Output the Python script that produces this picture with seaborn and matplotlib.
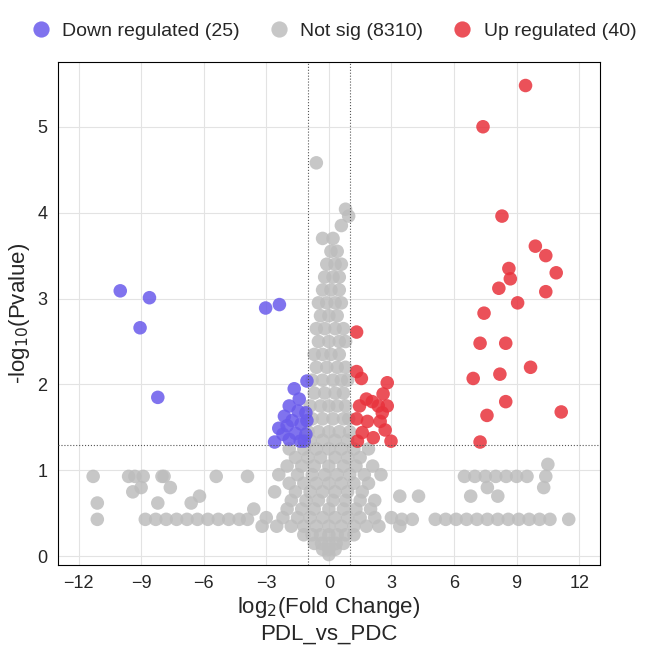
import matplotlib
matplotlib.use("Agg")
import matplotlib.pyplot as plt
import seaborn as sns
import pandas as pd

down_x = [-10.0, -8.6, -9.05, -8.2, -3.03, -2.37, -1.66, -1.05, -1.9, -1.42, -2.13, -1.47, -2.0,
          -1.33, -1.6, -1.1, -2.6, -1.9, -1.18, -2.4, -1.76, -1.05, -1.37, -1.1, -2.2]
down_y = [3.09, 3.01, 2.66, 1.85, 2.89, 2.93, 1.95, 2.04, 1.75, 1.83, 1.63, 1.69, 1.52,
          1.54, 1.43, 1.42, 1.33, 1.36, 1.34, 1.49, 1.58, 1.58, 1.34, 1.67, 1.42]

up_x = [9.43, 7.39, 8.3, 9.9, 10.4, 10.9, 8.63, 10.4, 9.05, 8.15, 8.7, 7.44, 8.48, 7.25, 9.67,
        8.2, 6.92, 7.58, 8.48, 11.14, 7.25,
        1.33, 1.33, 1.56, 1.8, 2.08, 2.8, 2.6, 2.37, 2.8, 1.85, 2.46, 1.6, 1.37, 2.13, 2.98,
        2.7, 1.33, 1.47, 2.56]
up_y = [5.48, 5.0, 3.96, 3.61, 3.5, 3.3, 3.35, 3.08, 2.95, 3.12, 3.23, 2.83, 2.48, 2.48, 2.2,
        2.12, 2.07, 1.64, 1.8, 1.68, 1.33,
        2.61, 2.15, 2.07, 1.83, 1.8, 2.02, 1.89, 1.75, 1.75, 1.57, 1.57, 1.44, 1.34, 1.38, 1.34,
        1.47, 1.6, 1.75, 1.67]

# representative non-significant points (rows by -log10 p)
ns_rows = {
    0.02: [0],
    0.08: [-0.3, 0, 0.3],
    0.15: [-0.7, -0.35, 0, 0.35, 0.7],
    0.25: [-1.2, -0.8, -0.4, 0, 0.4, 0.8, 1.2],
    0.35: [-3.2, -2.5, -1.8, -1.2, -0.6, 0, 0.6, 1.2, 1.8, 2.4, 3.4],
    0.43: [-11.1, -8.8, -8.3, -7.8, -7.3, -6.8, -6.3, -5.8, -5.3, -4.8, -4.3, -3.9,
           3.5, 4.0, 5.1, 5.6, 6.1, 6.6, 7.1, 7.6, 8.1, 8.6, 9.1, 9.6, 10.1, 10.6, 11.5],
    0.45: [-3.0, -2.2, -1.5, -0.9, -0.3, 0.3, 0.9, 1.5, 2.2, 3.0],
    0.55: [-3.6, -2.0, -1.3, -0.7, 0, 0.7, 1.3, 2.0],
    0.62: [-11.1, -8.2, -6.6],
    0.65: [-1.8, -1.1, -0.5, 0.2, 0.8, 1.5, 2.2],
    0.7: [-6.2, 3.4, 4.3, 6.8, 8.1],
    0.75: [-9.4, -2.6, -1.6, -0.9, -0.3, 0.3, 0.9, 1.6],
    0.8: [-9.0, -7.6, 7.6, 10.3],
    0.85: [-1.9, -1.2, -0.6, 0, 0.6, 1.2, 1.9],
    0.93: [-11.3, -9.6, -9.3, -8.9, -8.0, -7.9, -5.4, -3.9,
           6.5, 7.0, 7.5, 8.0, 8.5, 9.0, 9.5, 10.4],
    0.95: [-2.4, -1.5, -0.8, -0.2, 0.4, 1.0, 1.7, 2.5],
    1.05: [-2.0, -1.3, -0.7, 0, 0.7, 1.3, 2.1],
    1.07: [10.5],
    1.15: [-1.6, -1.0, -0.4, 0.3, 0.9, 1.5],
    1.25: [-1.9, -1.2, -0.6, 0, 0.6, 1.2, 1.9],
    1.35: [-0.9, -0.3, 0.3, 0.9],
    1.45: [-1.0, -0.5, 0, 0.5, 1.0],
    1.6: [-0.8, -0.3, 0.2, 0.7, 0.95],
    1.75: [-0.9, -0.4, 0, 0.4, 0.8],
    1.9: [-0.7, -0.2, 0.3, 0.7],
    2.05: [-0.8, -0.3, 0.2, 0.6, 0.9],
    2.2: [-0.6, -0.1, 0.4, 0.8],
    2.35: [-0.7, -0.3, 0.1, 0.5],
    2.5: [-0.5, 0, 0.5, 0.8],
    2.65: [-0.6, -0.2, 0.3, 0.7],
    2.8: [-0.4, 0, 0.4],
    2.95: [-0.5, -0.1, 0.3, 0.6],
    3.1: [-0.3, 0.1, 0.5],
    3.25: [-0.2, 0.2, 0.5],
    3.4: [-0.1, 0.3, 0.6],
    3.55: [0.1, 0.4],
    3.7: [-0.3, 0.2],
    3.85: [0.6],
    3.96: [0.95],
    4.04: [0.8],
    4.58: [-0.6],
}
ns_x = [x for y, xs in ns_rows.items() for x in xs]
ns_y = [y for y, xs in ns_rows.items() for x in xs]

labels = ["Down regulated (25)", "Not sig (8310)", "Up regulated (40)"]
colors = ["#6A5BEB", "#BDBDBD", "#E8323C"]

df = pd.concat([
    pd.DataFrame({"x": ns_x, "y": ns_y, "g": labels[1]}),
    pd.DataFrame({"x": down_x, "y": down_y, "g": labels[0]}),
    pd.DataFrame({"x": up_x, "y": up_y, "g": labels[2]}),
])

sns.set_style("white")
plt.rcParams["font.family"] = "Liberation Sans"
fig = plt.figure(figsize=(6.63, 6.63), dpi=100)
ax = fig.add_axes([0.087, 0.148, 0.818, 0.758])
sns.scatterplot(data=df, x="x", y="y", hue="g", hue_order=labels, palette=colors,
                s=95, alpha=0.85, edgecolor="none", ax=ax, zorder=3)
ax.set_xlim(-13, 13)
ax.set_ylim(-0.1, 5.75)
ax.set_xticks(range(-12, 13, 3))
ax.set_yticks(range(0, 6))
ax.grid(True, color="#E3E3E3", lw=0.8, zorder=0)
for s in ax.spines.values():
    s.set_color("black"); s.set_linewidth(0.8)
ax.axvline(-1, color="#555555", ls=":", lw=0.8, zorder=4)
ax.axvline(1, color="#555555", ls=":", lw=0.8, zorder=4)
ax.axhline(1.3, color="#555555", ls=":", lw=0.8, zorder=4)
ax.tick_params(labelsize=13, length=4)
ax.set_xlabel("log$_2$(Fold Change)\nPDL_vs_PDC", fontsize=16, labelpad=2)
ax.set_ylabel("-log$_{10}$(Pvalue)", fontsize=16)
ax.legend(loc="lower center", bbox_to_anchor=(0.5, 1.01), ncol=3, frameon=False,
          fontsize=14, handletextpad=0.1, columnspacing=1.0, markerscale=1.2)
fig.savefig("out.png", dpi=100)
